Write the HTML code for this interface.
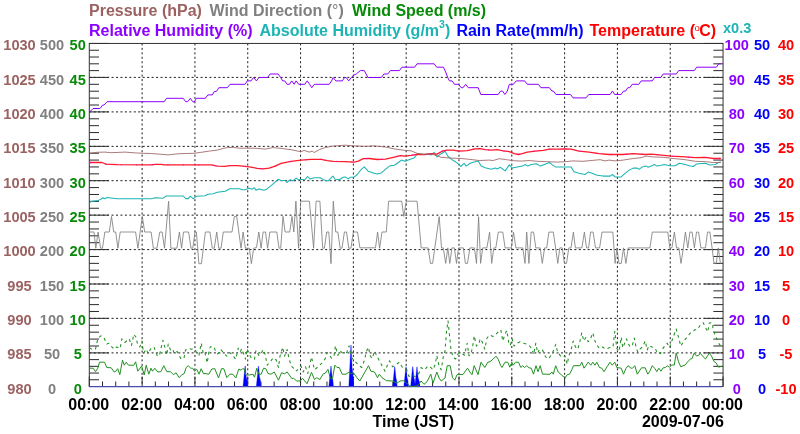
<!DOCTYPE html>
<html><head><meta charset="utf-8"><title>Weather chart</title>
<style>html,body{margin:0;padding:0;background:#fff}body{width:800px;height:434px;overflow:hidden}</style>
</head><body>
<svg width="800" height="434" viewBox="0 0 800 434" style="display:block">
<rect width="800" height="434" fill="#fff"/>
<path d="M142.11 43.45V386.5 M194.93 43.45V386.5 M247.74 43.45V386.5 M300.55 43.45V386.5 M353.36 43.45V386.5 M406.18 43.45V386.5 M458.99 43.45V386.5 M511.80 43.45V386.5 M564.61 43.45V386.5 M617.42 43.45V386.5 M670.24 43.45V386.5 M89.3 352.90H723.05 M89.3 318.35H723.05 M89.3 284.00H723.05 M89.3 249.60H723.05 M89.3 215.15H723.05 M89.3 180.70H723.05 M89.3 146.35H723.05 M89.3 111.90H723.05 M89.3 77.40H723.05" stroke="#1a1a1a" stroke-width="1" stroke-dasharray="2 2.45" fill="none"/>
<path d="M89.3 386.50h19.3M723.05 386.50h-19.3 M89.3 379.78h9.7M723.05 379.78h-9.7 M89.3 373.06h9.7M723.05 373.06h-9.7 M89.3 366.34h9.7M723.05 366.34h-9.7 M89.3 359.62h9.7M723.05 359.62h-9.7 M89.3 352.90h19.3M723.05 352.90h-19.3 M89.3 345.99h9.7M723.05 345.99h-9.7 M89.3 339.08h9.7M723.05 339.08h-9.7 M89.3 332.17h9.7M723.05 332.17h-9.7 M89.3 325.26h9.7M723.05 325.26h-9.7 M89.3 318.35h19.3M723.05 318.35h-19.3 M89.3 311.48h9.7M723.05 311.48h-9.7 M89.3 304.61h9.7M723.05 304.61h-9.7 M89.3 297.74h9.7M723.05 297.74h-9.7 M89.3 290.87h9.7M723.05 290.87h-9.7 M89.3 284.00h19.3M723.05 284.00h-19.3 M89.3 277.12h9.7M723.05 277.12h-9.7 M89.3 270.24h9.7M723.05 270.24h-9.7 M89.3 263.36h9.7M723.05 263.36h-9.7 M89.3 256.48h9.7M723.05 256.48h-9.7 M89.3 249.60h19.3M723.05 249.60h-19.3 M89.3 242.71h9.7M723.05 242.71h-9.7 M89.3 235.82h9.7M723.05 235.82h-9.7 M89.3 228.93h9.7M723.05 228.93h-9.7 M89.3 222.04h9.7M723.05 222.04h-9.7 M89.3 215.15h19.3M723.05 215.15h-19.3 M89.3 208.26h9.7M723.05 208.26h-9.7 M89.3 201.37h9.7M723.05 201.37h-9.7 M89.3 194.48h9.7M723.05 194.48h-9.7 M89.3 187.59h9.7M723.05 187.59h-9.7 M89.3 180.70h19.3M723.05 180.70h-19.3 M89.3 173.83h9.7M723.05 173.83h-9.7 M89.3 166.96h9.7M723.05 166.96h-9.7 M89.3 160.09h9.7M723.05 160.09h-9.7 M89.3 153.22h9.7M723.05 153.22h-9.7 M89.3 146.35h19.3M723.05 146.35h-19.3 M89.3 139.46h9.7M723.05 139.46h-9.7 M89.3 132.57h9.7M723.05 132.57h-9.7 M89.3 125.68h9.7M723.05 125.68h-9.7 M89.3 118.79h9.7M723.05 118.79h-9.7 M89.3 111.90h19.3M723.05 111.90h-19.3 M89.3 105.00h9.7M723.05 105.00h-9.7 M89.3 98.10h9.7M723.05 98.10h-9.7 M89.3 91.20h9.7M723.05 91.20h-9.7 M89.3 84.30h9.7M723.05 84.30h-9.7 M89.3 77.40h19.3M723.05 77.40h-19.3 M89.3 70.61h9.7M723.05 70.61h-9.7 M89.3 63.82h9.7M723.05 63.82h-9.7 M89.3 57.03h9.7M723.05 57.03h-9.7 M89.3 50.24h9.7M723.05 50.24h-9.7 M89.3 43.45h19.3M723.05 43.45h-19.3 M89.30 386.5v-10 M102.50 386.5v-5 M115.71 386.5v-5 M128.91 386.5v-5 M142.11 386.5v-10 M155.32 386.5v-5 M168.52 386.5v-5 M181.72 386.5v-5 M194.93 386.5v-10 M208.13 386.5v-5 M221.33 386.5v-5 M234.53 386.5v-5 M247.74 386.5v-10 M260.94 386.5v-5 M274.14 386.5v-5 M287.35 386.5v-5 M300.55 386.5v-10 M313.75 386.5v-5 M326.96 386.5v-5 M340.16 386.5v-5 M353.36 386.5v-10 M366.57 386.5v-5 M379.77 386.5v-5 M392.97 386.5v-5 M406.18 386.5v-10 M419.38 386.5v-5 M432.58 386.5v-5 M445.78 386.5v-5 M458.99 386.5v-10 M472.19 386.5v-5 M485.39 386.5v-5 M498.60 386.5v-5 M511.80 386.5v-10 M525.00 386.5v-5 M538.21 386.5v-5 M551.41 386.5v-5 M564.61 386.5v-10 M577.82 386.5v-5 M591.02 386.5v-5 M604.22 386.5v-5 M617.42 386.5v-10 M630.63 386.5v-5 M643.83 386.5v-5 M657.03 386.5v-5 M670.24 386.5v-10 M683.44 386.5v-5 M696.64 386.5v-5 M709.85 386.5v-5 M723.05 386.5v-10" stroke="#2a2a2a" stroke-width="1" fill="none"/>
<rect x="89.3" y="43.45" width="633.75" height="343.05" fill="none" stroke="#333" stroke-width="1"/>
<path d="M243.0 386.5L245.0 366.0L245.3 366.0L246.3 377.3L247.1 379.9L247.7 386.5Z M256.3 386.5L258.4 366.0L258.6 366.0L259.6 377.3L260.4 379.9L261.0 386.5Z M328.8 386.5L330.9 366.0L331.1 366.0L332.1 377.3L332.9 379.9L333.5 386.5Z M348.8 386.5L350.9 345.0L351.1 345.0L352.1 367.8L352.9 373.2L353.5 386.5Z M392.6 386.5L394.6 366.7L394.9 366.7L395.9 377.6L396.6 380.2L397.2 386.5Z M403.8 386.5L405.9 366.7L406.1 366.7L407.1 377.6L407.9 380.2L408.5 386.5Z M410.6 386.5L412.6 366.7L412.9 366.7L413.9 377.6L414.6 380.2L415.2 386.5Z M414.8 386.5L416.9 366.7L417.1 366.7L418.1 377.6L418.9 380.2L419.5 386.5Z" fill="#0000ff" stroke="#0000ff" stroke-width="0.3" stroke-linejoin="round"/>
<path d="M89.3 386.6H722.05" stroke="#4a4ab0" stroke-width="1.1"/>
<path d="M89.6 232.0 L94.0 232.0 L95.8 248.2 L98.1 232.0 L100.6 248.2 L102.5 248.2 L104.8 232.0 L109.3 232.0 L111.5 216.4 L113.7 232.0 L115.7 232.0 L117.9 248.2 L120.2 232.0 L135.6 232.0 L137.9 248.2 L142.3 216.4 L144.7 232.0 L151.1 232.0 L153.4 248.2 L156.9 248.2 L159.8 232.0 L162.1 232.0 L164.5 248.2 L168.6 201.2 L170.9 248.2 L176.9 248.2 L179.4 232.0 L181.6 248.2 L183.5 232.0 L188.6 232.0 L191.0 248.2 L192.8 248.2 L195.0 232.0 L196.4 232.0 L198.9 263.7 L201.4 263.7 L205.4 232.0 L209.9 232.0 L212.3 248.2 L214.3 248.2 L216.7 232.0 L218.8 248.2 L221.0 248.2 L223.3 232.0 L232.0 232.0 L234.4 216.4 L236.7 216.4 L241.0 248.2 L243.1 232.0 L245.4 248.2 L249.3 248.2 L251.4 263.7 L253.7 248.2 L256.5 247.5 L258.8 232.0 L261.1 248.2 L263.1 232.0 L265.5 232.0 L267.6 248.2 L269.9 232.0 L276.8 232.0 L279.0 248.2 L280.7 248.2 L283.0 216.4 L285.1 232.0 L289.7 232.0 L292.0 216.4 L293.8 232.0 L295.9 201.2 L298.6 248.2 L300.7 201.2 L305.0 201.2 L309.4 201.2 L313.6 248.2 L316.1 201.2 L319.9 201.2 L322.7 248.2 L324.4 248.2 L326.7 232.0 L328.8 232.0 L331.0 263.7 L333.3 201.2 L335.7 232.0 L337.8 232.0 L340.2 248.2 L342.0 248.2 L344.4 232.0 L346.5 232.0 L348.8 248.2 L350.9 248.2 L353.4 232.0 L357.5 232.0 L359.9 247.8 L375.5 247.8 L377.6 232.0 L379.6 248.2 L382.0 232.0 L386.3 232.0 L388.6 201.2 L401.7 201.2 L403.8 216.4 L406.3 201.2 L415.0 201.2 L417.1 201.3 L421.2 247.9 L428.1 247.9 L430.5 263.4 L432.6 263.4 L439.2 216.7 L441.5 247.9 L443.3 247.9 L445.7 263.4 L447.8 247.9 L449.8 263.4 L451.9 247.9 L454.4 247.9 L456.5 263.4 L458.5 247.9 L463.4 247.9 L465.4 263.4 L467.5 263.4 L469.9 247.9 L474.4 247.9 L476.5 263.4 L478.6 216.7 L480.6 263.4 L482.7 247.9 L486.9 247.9 L489.6 232.1 L491.7 263.4 L493.8 247.9 L495.8 247.9 L498.3 232.1 L502.8 232.1 L505.1 247.9 L511.3 247.9 L513.5 232.1 L515.9 247.9 L522.8 247.9 L525.0 263.4 L526.7 232.1 L528.9 263.4 L531.2 232.1 L533.6 232.1 L535.8 247.9 L540.2 247.9 L542.3 263.4 L544.6 247.9 L546.7 247.9 L548.9 232.1 L553.3 232.1 L557.8 263.4 L559.8 247.9 L562.3 247.9 L564.4 263.4 L566.5 263.4 L568.8 247.9 L571.0 247.9 L573.4 232.1 L575.4 247.9 L581.9 247.9 L584.4 232.1 L586.5 247.9 L588.6 247.9 L590.6 232.1 L593.1 232.1 L595.5 247.9 L599.6 247.9 L602.0 232.1 L612.8 232.1 L615.1 263.4 L616.9 247.9 L619.0 263.4 L621.3 263.4 L623.5 247.9 L625.9 263.4 L628.2 247.9 L635.0 247.9 L649.9 247.9 L652.3 232.1 L667.8 232.1 L669.8 247.9 L671.9 247.9 L674.4 232.1 L676.5 247.9 L678.9 247.9 L681.0 263.4 L683.4 247.9 L685.4 232.1 L687.8 247.9 L689.9 232.1 L692.1 232.1 L694.4 247.9 L696.5 232.1 L698.6 232.1 L700.9 247.9 L705.5 247.9 L707.5 232.1 L709.9 232.1 L712.1 247.9 L714.0 263.4 L716.3 263.4 L718.3 247.9 L720.4 263.4 L720.9 263.4" fill="none" stroke="#808080" stroke-width="0.85" stroke-linejoin="miter" stroke-miterlimit="10" />
<path d="M89.5 347.8 L92.5 349.7 L95.5 349.2 L97.8 338.8 L100.8 335.8 L103.8 337.2 L106.8 344.0 L109.0 343.2 L111.2 346.2 L114.2 349.2 L116.5 347.0 L120.2 348.5 L121.8 338.8 L124.8 342.5 L129.2 338.8 L131.5 345.5 L133.8 334.2 L136.0 337.2 L137.5 344.0 L139.8 347.0 L142.0 341.0 L143.5 353.0 L146.5 349.2 L148.0 353.8 L151.0 348.5 L154.0 347.0 L157.0 355.2 L159.2 356.0 L161.5 346.2 L163.0 340.2 L165.2 348.5 L166.8 355.2 L168.2 344.0 L170.5 350.0 L172.8 349.2 L174.2 353.8 L177.2 351.5 L178.8 354.5 L181.0 359.0 L184.0 358.2 L185.5 350.0 L188.5 348.5 L191.5 349.2 L194.5 348.5 L196.8 353.0 L199.0 355.2 L201.2 343.2 L203.5 354.5 L205.0 353.0 L207.2 363.0 L208.8 352.5 L210.2 346.8 L214.0 346.8 L215.5 351.0 L217.8 354.0 L220.8 349.5 L224.5 354.0 L226.8 356.2 L229.8 352.5 L232.0 354.8 L235.8 359.2 L238.3 348.0 L240.2 351.8 L241.8 348.8 L244.0 354.8 L245.5 359.2 L247.0 348.8 L249.2 354.0 L251.5 358.8 L254.5 359.2 L256.0 350.2 L259.0 355.5 L261.2 353.2 L263.2 349.5 L265.0 354.0 L267.2 365.2 L271.0 360.8 L273.2 357.8 L276.2 360.0 L278.5 367.5 L280.0 356.2 L282.7 347.2 L284.5 356.2 L287.2 349.5 L289.0 358.5 L291.2 366.0 L293.5 368.2 L295.8 371.2 L299.5 368.2 L301.0 366.0 L303.2 372.0 L305.5 366.8 L307.8 373.5 L311.5 357.0 L314.5 369.8 L319.0 366.0 L322.0 363.0 L325.0 359.2 L327.2 352.5 L329.5 355.5 L331.8 358.5 L334.0 355.5 L335.5 345.8 L337.8 355.5 L340.0 351.0 L343.0 353.2 L346.8 352.5 L349.0 345.8 L351.2 357.0 L355.0 361.5 L359.5 366.0 L361.8 367.5 L364.8 359.2 L366.2 351.8 L368.5 347.2 L370.0 355.5 L372.2 358.5 L374.5 351.0 L377.5 357.0 L380.5 363.0 L385.0 371.2 L388.0 363.8 L389.5 360.8 L392.5 366.8 L395.5 365.2 L399.2 362.2 L403.0 368.2 L406.8 369.8 L409.0 376.5 L411.2 375.0 L415.0 376.5 L418.8 373.5 L421.0 367.5 L424.8 369.8 L427.8 366.0 L430.8 367.5 L433.0 369.8 L435.2 364.5 L436.8 355.5 L439.0 366.0 L441.2 369.8 L443.5 355.5 L445.0 351.0 L446.5 332.0 L448.0 320.8 L449.5 335.0 L451.0 350.0 L453.2 357.5 L455.5 359.0 L458.5 353.0 L461.5 353.3 L464.5 355.2 L467.2 343.2 L469.0 356.0 L471.2 353.0 L472.8 345.5 L474.2 335.8 L476.5 346.2 L478.8 344.0 L480.2 338.8 L482.5 342.5 L484.8 349.2 L487.0 338.0 L490.0 335.0 L493.0 336.5 L496.8 333.5 L498.7 331.2 L500.8 329.8 L502.8 341.0 L505.0 334.2 L506.8 330.5 L508.8 343.2 L510.2 345.5 L512.2 338.8 L514.0 346.2 L517.0 343.2 L520.0 341.8 L523.0 343.2 L526.8 344.0 L529.8 346.2 L532.0 349.2 L533.5 354.5 L535.8 343.2 L537.7 353.0 L539.5 349.2 L542.5 350.0 L545.5 356.8 L548.5 359.0 L551.5 354.5 L553.8 350.0 L555.7 344.3 L557.5 351.5 L560.5 356.0 L563.5 357.5 L565.0 356.0 L567.2 364.2 L568.8 356.0 L571.0 350.0 L573.2 341.0 L575.5 347.0 L577.8 349.2 L580.0 341.0 L581.8 332.8 L583.8 341.0 L586.0 337.2 L588.2 341.8 L590.5 338.8 L592.8 332.8 L595.0 341.0 L597.2 345.5 L599.5 348.5 L602.5 347.0 L605.5 349.2 L609.2 347.8 L613.0 347.0 L614.8 331.2 L616.8 348.5 L619.0 351.5 L621.2 337.2 L622.8 347.8 L625.0 342.5 L626.5 338.8 L628.0 343.2 L630.2 347.0 L632.5 344.8 L634.3 338.0 L636.2 347.8 L637.8 352.2 L640.0 349.2 L643.0 346.2 L645.2 341.0 L647.2 350.0 L649.0 345.5 L652.0 347.0 L655.0 347.8 L657.2 353.0 L660.2 353.8 L662.5 349.2 L665.0 345.5 L667.2 343.2 L669.5 347.8 L671.8 341.0 L674.0 335.0 L676.2 329.0 L678.5 337.2 L680.8 346.2 L683.8 341.0 L687.5 336.5 L690.5 332.8 L692.8 331.2 L695.0 329.8 L697.2 329.8 L700.2 325.2 L703.2 322.7 L705.5 327.5 L707.8 332.0 L709.2 323.0 L712.2 322.7 L713.3 330.5 L716.0 336.5 L718.2 342.5 L720.8 346.2" fill="none" stroke="#1f8f1f" stroke-width="1.05" stroke-linejoin="round" stroke-dasharray="3 3.4"/>
<path d="M89.5 368.2 L93.2 368.2 L95.5 371.7 L97.8 368.2 L99.5 362.2 L104.5 362.2 L106.8 367.5 L111.2 367.8 L114.2 372.0 L115.8 371.2 L117.7 368.7 L119.8 374.7 L122.5 360.0 L124.3 365.2 L126.2 362.2 L128.5 365.2 L133.8 365.2 L135.6 361.8 L137.8 371.2 L141.7 366.0 L144.2 375.0 L146.2 365.2 L148.8 374.2 L151.0 368.2 L152.5 371.2 L154.8 368.2 L157.8 372.0 L160.8 371.7 L163.8 365.7 L166.8 371.7 L170.5 371.7 L173.5 374.7 L176.1 372.8 L179.2 377.7 L181.8 374.7 L184.0 373.8 L186.2 367.5 L188.2 365.7 L190.8 368.2 L192.7 368.2 L194.5 371.2 L196.8 369.3 L199.0 374.2 L201.2 368.7 L203.5 373.8 L205.0 373.5 L208.8 374.2 L211.8 369.0 L214.8 368.7 L218.5 378.0 L221.5 368.7 L223.8 368.7 L226.8 377.7 L229.8 374.2 L232.8 374.2 L235.8 378.0 L238.8 369.0 L241.0 370.2 L242.5 368.7 L244.3 369.0 L245.8 375.0 L249.2 375.0 L253.0 374.2 L254.5 377.2 L256.8 368.2 L258.7 374.2 L261.2 374.2 L263.5 368.2 L265.8 368.7 L268.0 373.5 L271.0 374.2 L274.3 372.0 L278.5 380.2 L281.5 372.8 L284.5 373.8 L287.2 372.0 L292.0 378.8 L293.5 378.0 L296.5 381.0 L300.2 381.0 L302.5 378.3 L307.0 383.7 L311.5 372.4 L314.5 379.5 L316.8 377.7 L319.8 379.5 L323.5 373.5 L325.0 373.5 L328.0 369.3 L330.2 378.0 L332.5 378.8 L334.8 365.2 L337.0 367.5 L339.2 367.5 L342.2 374.2 L346.0 374.2 L349.0 372.0 L351.2 373.8 L353.5 372.8 L356.5 377.2 L359.8 381.0 L368.5 365.7 L370.8 371.2 L374.5 372.0 L377.5 377.7 L379.3 374.2 L382.0 377.7 L386.5 380.7 L392.5 381.0 L397.0 383.2 L400.0 381.0 L403.8 380.7 L406.8 383.2 L410.5 386.6 L415.0 386.2 L418.0 385.5 L421.0 381.0 L424.0 384.3 L427.0 381.8 L430.8 374.2 L433.0 383.2 L436.8 372.0 L439.0 378.0 L441.2 381.0 L445.0 378.0 L447.2 365.7 L450.2 365.7 L452.5 377.7 L454.8 380.2 L457.0 374.7 L463.0 374.4 L467.5 368.2 L469.8 372.0 L472.0 374.7 L474.2 365.7 L478.0 374.7 L481.0 362.2 L484.8 367.5 L487.8 362.2 L490.0 361.8 L493.0 359.2 L496.0 356.2 L498.2 359.2 L500.5 365.2 L502.0 367.5 L505.0 362.2 L507.7 362.2 L509.8 367.2 L511.8 362.2 L513.2 365.2 L515.5 362.2 L518.5 362.2 L520.8 367.5 L522.7 365.7 L524.5 367.5 L526.8 365.7 L529.0 367.8 L531.2 368.2 L533.5 374.2 L536.0 365.7 L538.0 371.7 L540.2 365.7 L542.5 374.2 L550.0 374.2 L551.8 372.0 L553.3 374.2 L555.7 365.7 L558.2 372.0 L561.2 374.7 L565.0 378.0 L567.2 374.7 L569.5 374.2 L571.8 369.8 L573.5 365.7 L580.0 365.7 L581.8 362.2 L584.0 368.2 L588.2 362.2 L590.8 365.2 L592.8 362.2 L595.0 365.2 L596.8 362.2 L599.5 367.5 L601.8 368.2 L604.0 371.7 L607.0 366.8 L610.0 362.2 L612.2 365.2 L614.8 362.2 L616.8 367.5 L621.2 368.2 L623.5 374.2 L625.8 368.7 L628.0 365.7 L631.0 368.2 L632.5 368.2 L634.8 365.7 L637.3 374.2 L641.5 367.8 L645.2 367.8 L647.8 374.2 L649.8 371.2 L652.3 365.7 L655.0 368.7 L656.8 371.7 L658.8 368.2 L661.0 371.2 L663.2 367.8 L665.5 367.5 L667.2 365.8 L669.5 367.2 L671.8 365.0 L674.3 365.0 L676.2 353.0 L678.5 361.7 L680.8 366.8 L683.0 365.8 L685.2 365.0 L688.2 361.2 L690.5 359.0 L692.0 358.7 L694.2 353.0 L696.5 356.0 L698.8 355.2 L700.2 353.3 L703.2 356.8 L705.5 359.0 L709.2 353.3 L711.5 356.0 L713.8 361.2 L716.0 362.8 L718.7 367.2 L720.9 366.5" fill="none" stroke="#219121" stroke-width="1.0" stroke-linejoin="round" />
<path d="M90.0 111.7 L93.0 108.5 L100.0 108.5 L102.6 105.1 L104.0 105.1 L107.1 101.7 L164.2 101.7 L166.6 98.3 L183.2 98.3 L185.7 101.7 L187.7 101.7 L190.3 98.3 L192.7 101.7 L194.3 102.1 L196.3 98.3 L205.3 98.3 L207.9 94.9 L212.3 94.9 L214.3 91.5 L216.3 91.5 L218.9 87.7 L227.4 87.7 L230.0 84.3 L245.0 84.3 L247.4 80.9 L251.0 80.9 L253.6 77.5 L256.4 80.9 L259.0 77.5 L267.5 77.5 L270.1 74.0 L278.1 74.0 L280.7 77.5 L282.7 80.9 L284.7 80.9 L287.1 84.3 L289.5 84.3 L291.7 80.9 L294.1 84.3 L296.1 80.9 L298.7 84.3 L304.8 84.3 L307.2 80.9 L309.6 84.3 L311.8 87.7 L314.2 84.3 L329.2 84.3 L331.6 80.9 L333.2 77.5 L335.8 80.9 L342.2 80.9 L344.6 77.5 L346.2 77.5 L348.7 80.9 L351.3 77.5 L353.9 75.0 L356.3 74.0 L360.3 70.6 L364.3 70.6 L366.1 74.0 L367.9 77.5 L381.3 77.5 L383.9 74.0 L387.8 74.0 L390.4 70.6 L399.4 70.6 L402.0 67.2 L405.0 67.2 L414.6 67.2 L417.0 63.8 L434.1 63.8 L436.7 67.2 L443.5 67.2 L446.1 73.0 L447.7 77.5 L449.5 80.9 L452.1 80.9 L454.5 84.3 L458.7 84.3 L461.1 87.7 L463.1 87.7 L465.6 84.3 L468.2 87.7 L478.2 87.7 L480.8 94.5 L498.2 94.5 L500.6 91.1 L502.6 91.1 L504.9 94.5 L507.3 91.1 L509.3 84.3 L513.3 84.3 L516.3 80.9 L524.7 80.9 L527.3 84.3 L538.3 84.3 L540.9 87.7 L549.4 87.7 L552.0 91.1 L553.4 91.1 L556.0 94.5 L565.0 94.5 L570.6 94.5 L573.0 97.9 L586.0 97.9 L588.7 94.5 L610.1 94.5 L612.5 91.1 L614.7 94.5 L621.1 94.5 L623.5 91.1 L625.5 91.1 L627.8 87.7 L629.8 87.7 L632.2 84.3 L638.8 84.3 L641.2 80.9 L652.2 80.9 L654.6 77.5 L660.8 77.5 L663.2 74.0 L676.3 74.0 L678.7 70.6 L694.3 70.6 L696.7 67.2 L716.4 67.2 L718.8 63.8 L720.9 63.8" fill="none" stroke="#8c00ff" stroke-width="1.0" stroke-linejoin="round" />
<path d="M90.0 202.2 L92.0 201.2 L98.0 200.6 L101.0 199.0 L103.0 197.8 L104.5 198.8 L107.1 197.6 L113.1 198.2 L117.1 198.8 L151.2 198.8 L155.2 197.8 L163.2 198.2 L166.2 196.0 L183.2 196.0 L185.8 198.6 L188.3 198.6 L190.3 196.2 L193.3 198.8 L196.3 196.2 L205.3 195.8 L207.7 194.2 L213.3 193.8 L217.3 192.2 L225.3 191.2 L229.8 188.8 L239.4 188.8 L242.4 189.8 L245.0 189.8 L249.0 188.2 L252.0 189.3 L254.0 187.7 L256.0 190.2 L259.0 188.9 L264.1 190.2 L267.1 188.9 L271.1 185.7 L275.1 182.1 L278.1 179.3 L281.1 180.5 L285.1 180.5 L287.1 182.5 L290.1 179.7 L293.1 180.9 L296.1 178.1 L298.1 179.7 L305.1 179.3 L307.6 176.5 L310.2 179.1 L314.2 177.7 L320.2 177.7 L324.2 180.1 L328.2 180.9 L332.8 176.1 L335.2 179.3 L339.2 179.7 L343.2 177.3 L345.2 176.9 L348.3 178.9 L350.3 177.3 L354.3 176.9 L357.3 174.5 L361.3 169.3 L364.3 166.9 L368.3 171.3 L373.3 172.9 L377.3 174.1 L381.3 172.9 L385.4 169.3 L389.4 166.1 L394.4 165.3 L398.4 162.5 L401.4 160.1 L405.0 161.3 L409.0 159.7 L414.0 158.1 L417.0 154.1 L423.1 154.5 L427.1 154.1 L431.1 154.9 L434.1 152.5 L437.1 156.9 L441.1 153.7 L445.1 151.2 L448.1 156.5 L452.1 159.7 L457.1 162.9 L460.7 166.5 L464.1 163.3 L466.1 166.1 L470.2 163.3 L474.2 162.1 L478.2 160.9 L481.2 166.1 L485.2 167.7 L491.2 169.3 L495.2 168.1 L497.6 168.9 L500.2 167.3 L505.2 170.9 L509.3 164.9 L512.3 168.1 L517.3 166.9 L522.3 166.1 L525.3 164.5 L527.7 166.1 L531.3 164.5 L536.3 163.7 L540.3 166.1 L544.4 164.5 L549.4 162.5 L552.4 164.9 L555.4 166.9 L565.0 166.9 L571.0 166.9 L574.0 171.7 L579.0 173.3 L585.0 174.5 L588.1 172.1 L592.1 173.3 L597.1 175.3 L603.1 176.1 L610.1 176.1 L612.5 174.5 L615.1 176.9 L621.1 176.9 L625.1 173.3 L629.2 170.1 L633.2 168.1 L637.2 168.1 L639.2 169.3 L642.2 166.9 L646.2 166.1 L648.2 167.3 L651.2 166.1 L654.2 164.5 L657.2 166.1 L661.2 165.3 L664.2 164.5 L669.3 165.7 L675.3 165.7 L679.3 163.3 L685.3 164.5 L689.3 165.7 L693.3 166.5 L696.3 164.1 L705.4 163.3 L709.4 164.9 L715.4 164.5 L718.4 162.5 L720.9 162.1" fill="none" stroke="#1cb4b4" stroke-width="1.05" stroke-linejoin="round" />
<path d="M90.0 162.5 L102.0 162.5 L106.0 164.1 L117.1 164.7 L151.2 164.9 L155.2 164.3 L161.2 164.3 L164.2 164.9 L211.3 164.9 L217.3 166.1 L225.3 166.3 L229.4 165.7 L237.4 165.7 L245.0 166.3 L251.0 167.1 L257.0 168.3 L263.1 168.9 L269.1 168.1 L275.1 166.1 L281.1 163.3 L291.1 161.3 L301.1 160.1 L311.2 159.3 L321.2 159.3 L327.2 160.7 L333.2 161.3 L345.2 161.7 L354.3 162.1 L358.3 161.1 L363.3 158.7 L369.3 158.5 L377.3 159.5 L385.4 159.1 L393.4 157.3 L400.4 155.7 L405.0 156.1 L411.0 155.3 L417.0 154.3 L425.1 154.5 L431.1 153.7 L437.1 154.1 L442.1 151.2 L447.1 150.1 L453.1 150.1 L459.1 151.2 L467.2 150.7 L475.2 148.8 L480.2 148.7 L485.2 149.7 L491.2 150.1 L497.2 149.7 L503.2 150.8 L509.3 151.7 L514.3 153.7 L518.3 154.5 L522.3 153.7 L527.3 152.1 L535.3 151.2 L543.4 150.4 L549.4 149.2 L557.4 149.1 L565.0 148.8 L571.0 149.2 L579.0 151.2 L589.1 152.1 L599.1 153.7 L609.1 154.5 L623.1 154.5 L633.2 153.7 L645.2 154.5 L651.2 154.1 L659.2 154.9 L671.3 156.1 L685.3 156.9 L695.3 157.7 L705.4 157.3 L713.4 158.5 L720.9 158.5" fill="none" stroke="#ff1a2a" stroke-width="1.3" stroke-linejoin="round" />
<path d="M90.0 162.5 L102.0 162.5 L106.0 164.1 L117.1 164.7 L151.2 164.9 L155.2 164.3 L161.2 164.3 L164.2 164.9 L211.3 164.9 L217.3 166.1 L225.3 166.3 L229.4 165.7 L237.4 165.7 L245.0 166.3 L251.0 167.1 L257.0 168.3 L263.1 168.9 L269.1 168.1 L275.1 166.1 L281.1 163.3 L291.1 161.3 L301.1 160.1 L311.2 159.3 L321.2 159.3 L327.2 160.7 L333.2 161.3 L345.2 161.7 L354.3 162.1 L358.3 161.1 L363.3 158.7 L369.3 158.5 L377.3 159.5 L385.4 159.1 L393.4 157.3 L400.4 155.7 L405.0 156.1 L411.0 155.3 L417.0 154.3 L425.1 154.5 L431.1 153.7 L437.1 154.1 L442.1 151.2 L447.1 150.1 L453.1 150.1 L459.1 151.2 L467.2 150.7 L475.2 148.8 L480.2 148.7 L485.2 149.7 L491.2 150.1 L497.2 149.7 L503.2 150.8 L509.3 151.7 L514.3 153.7 L518.3 154.5 L522.3 153.7 L527.3 152.1 L535.3 151.2 L543.4 150.4 L549.4 149.2 L557.4 149.1 L565.0 148.8 L571.0 149.2 L579.0 151.2 L589.1 152.1 L599.1 153.7 L609.1 154.5 L623.1 154.5 L633.2 153.7 L645.2 154.5 L651.2 154.1 L659.2 154.9 L671.3 156.1 L685.3 156.9 L695.3 157.7 L705.4 157.3 L713.4 158.5 L720.9 158.5" fill="none" stroke="#ff00d0" stroke-width="1.3" stroke-linejoin="round" stroke-dasharray="1.5 14" opacity="0.7"/>
<path d="M90.0 153.3 L97.0 152.3 L105.0 152.1 L111.1 152.7 L125.1 152.1 L135.1 152.9 L143.2 153.3 L151.2 153.5 L161.2 154.3 L168.2 154.9 L173.2 154.3 L179.2 153.7 L185.2 153.5 L194.3 153.3 L201.3 152.3 L209.3 151.1 L217.3 150.1 L223.3 148.4 L227.4 147.6 L233.4 147.4 L239.4 148.2 L245.0 148.2 L255.0 148.2 L265.1 149.1 L273.1 147.6 L281.1 148.4 L291.1 149.7 L298.1 151.2 L301.1 151.7 L304.1 150.4 L309.2 152.1 L312.2 151.2 L314.2 152.5 L319.2 149.7 L325.2 147.6 L333.2 146.0 L345.2 145.2 L353.3 145.8 L365.3 146.4 L373.3 145.8 L385.4 147.0 L395.4 149.1 L405.0 150.4 L411.0 150.8 L417.0 153.3 L425.1 154.5 L431.1 154.1 L435.1 155.1 L441.1 157.3 L451.1 158.1 L461.1 158.5 L469.2 159.3 L479.2 160.5 L489.2 160.1 L493.2 160.5 L499.2 158.7 L505.2 159.5 L513.3 160.7 L521.3 161.1 L529.3 160.5 L537.3 161.3 L547.4 161.7 L557.4 162.1 L565.0 161.7 L573.0 160.9 L583.0 161.3 L591.1 160.5 L600.1 159.7 L605.1 160.9 L609.1 160.1 L615.1 160.9 L623.1 160.1 L633.2 158.5 L641.2 157.7 L646.2 156.1 L653.2 156.9 L663.2 157.3 L673.3 158.5 L685.3 159.7 L695.3 161.3 L705.4 161.7 L713.4 162.5 L720.9 162.5" fill="none" stroke="#9c6262" stroke-width="0.85" stroke-linejoin="round" />
<g font-family="'Liberation Sans', Arial, Helvetica, sans-serif" font-weight="bold" font-size="16px">
<text x="19.5" y="393.8" text-anchor="middle" font-size="14.6px" fill="#9c6262">980</text>
<text x="52" y="393.8" text-anchor="middle" font-size="14.6px" fill="#808080">0</text>
<text x="77.7" y="393.8" text-anchor="middle" font-size="14.6px" fill="#078a07">0</text>
<text x="736.8" y="393.8" text-anchor="middle" font-size="14.6px" fill="#8c00ff">0</text>
<text x="762" y="393.8" text-anchor="middle" font-size="14.6px" fill="#0000ff">0</text>
<text x="786" y="393.8" text-anchor="middle" font-size="14.6px" fill="#ff0000">-10</text>
<text x="19.5" y="359.4" text-anchor="middle" font-size="14.6px" fill="#9c6262">985</text>
<text x="52" y="359.4" text-anchor="middle" font-size="14.6px" fill="#808080">50</text>
<text x="77.7" y="359.4" text-anchor="middle" font-size="14.6px" fill="#078a07">5</text>
<text x="736.8" y="359.4" text-anchor="middle" font-size="14.6px" fill="#8c00ff">10</text>
<text x="762" y="359.4" text-anchor="middle" font-size="14.6px" fill="#0000ff">5</text>
<text x="786" y="359.4" text-anchor="middle" font-size="14.6px" fill="#ff0000">-5</text>
<text x="19.5" y="325.1" text-anchor="middle" font-size="14.6px" fill="#9c6262">990</text>
<text x="52" y="325.1" text-anchor="middle" font-size="14.6px" fill="#808080">100</text>
<text x="77.7" y="325.1" text-anchor="middle" font-size="14.6px" fill="#078a07">10</text>
<text x="736.8" y="325.1" text-anchor="middle" font-size="14.6px" fill="#8c00ff">20</text>
<text x="762" y="325.1" text-anchor="middle" font-size="14.6px" fill="#0000ff">10</text>
<text x="786" y="325.1" text-anchor="middle" font-size="14.6px" fill="#ff0000">0</text>
<text x="19.5" y="290.7" text-anchor="middle" font-size="14.6px" fill="#9c6262">995</text>
<text x="52" y="290.7" text-anchor="middle" font-size="14.6px" fill="#808080">150</text>
<text x="77.7" y="290.7" text-anchor="middle" font-size="14.6px" fill="#078a07">15</text>
<text x="736.8" y="290.7" text-anchor="middle" font-size="14.6px" fill="#8c00ff">30</text>
<text x="762" y="290.7" text-anchor="middle" font-size="14.6px" fill="#0000ff">15</text>
<text x="786" y="290.7" text-anchor="middle" font-size="14.6px" fill="#ff0000">5</text>
<text x="19.5" y="256.3" text-anchor="middle" font-size="14.6px" fill="#9c6262">1000</text>
<text x="52" y="256.3" text-anchor="middle" font-size="14.6px" fill="#808080">200</text>
<text x="77.7" y="256.3" text-anchor="middle" font-size="14.6px" fill="#078a07">20</text>
<text x="736.8" y="256.3" text-anchor="middle" font-size="14.6px" fill="#8c00ff">40</text>
<text x="762" y="256.3" text-anchor="middle" font-size="14.6px" fill="#0000ff">20</text>
<text x="786" y="256.3" text-anchor="middle" font-size="14.6px" fill="#ff0000">10</text>
<text x="19.5" y="222.0" text-anchor="middle" font-size="14.6px" fill="#9c6262">1005</text>
<text x="52" y="222.0" text-anchor="middle" font-size="14.6px" fill="#808080">250</text>
<text x="77.7" y="222.0" text-anchor="middle" font-size="14.6px" fill="#078a07">25</text>
<text x="736.8" y="222.0" text-anchor="middle" font-size="14.6px" fill="#8c00ff">50</text>
<text x="762" y="222.0" text-anchor="middle" font-size="14.6px" fill="#0000ff">25</text>
<text x="786" y="222.0" text-anchor="middle" font-size="14.6px" fill="#ff0000">15</text>
<text x="19.5" y="187.6" text-anchor="middle" font-size="14.6px" fill="#9c6262">1010</text>
<text x="52" y="187.6" text-anchor="middle" font-size="14.6px" fill="#808080">300</text>
<text x="77.7" y="187.6" text-anchor="middle" font-size="14.6px" fill="#078a07">30</text>
<text x="736.8" y="187.6" text-anchor="middle" font-size="14.6px" fill="#8c00ff">60</text>
<text x="762" y="187.6" text-anchor="middle" font-size="14.6px" fill="#0000ff">30</text>
<text x="786" y="187.6" text-anchor="middle" font-size="14.6px" fill="#ff0000">20</text>
<text x="19.5" y="153.2" text-anchor="middle" font-size="14.6px" fill="#9c6262">1015</text>
<text x="52" y="153.2" text-anchor="middle" font-size="14.6px" fill="#808080">350</text>
<text x="77.7" y="153.2" text-anchor="middle" font-size="14.6px" fill="#078a07">35</text>
<text x="736.8" y="153.2" text-anchor="middle" font-size="14.6px" fill="#8c00ff">70</text>
<text x="762" y="153.2" text-anchor="middle" font-size="14.6px" fill="#0000ff">35</text>
<text x="786" y="153.2" text-anchor="middle" font-size="14.6px" fill="#ff0000">25</text>
<text x="19.5" y="118.8" text-anchor="middle" font-size="14.6px" fill="#9c6262">1020</text>
<text x="52" y="118.8" text-anchor="middle" font-size="14.6px" fill="#808080">400</text>
<text x="77.7" y="118.8" text-anchor="middle" font-size="14.6px" fill="#078a07">40</text>
<text x="736.8" y="118.8" text-anchor="middle" font-size="14.6px" fill="#8c00ff">80</text>
<text x="762" y="118.8" text-anchor="middle" font-size="14.6px" fill="#0000ff">40</text>
<text x="786" y="118.8" text-anchor="middle" font-size="14.6px" fill="#ff0000">30</text>
<text x="19.5" y="84.5" text-anchor="middle" font-size="14.6px" fill="#9c6262">1025</text>
<text x="52" y="84.5" text-anchor="middle" font-size="14.6px" fill="#808080">450</text>
<text x="77.7" y="84.5" text-anchor="middle" font-size="14.6px" fill="#078a07">45</text>
<text x="736.8" y="84.5" text-anchor="middle" font-size="14.6px" fill="#8c00ff">90</text>
<text x="762" y="84.5" text-anchor="middle" font-size="14.6px" fill="#0000ff">45</text>
<text x="786" y="84.5" text-anchor="middle" font-size="14.6px" fill="#ff0000">35</text>
<text x="19.5" y="50.1" text-anchor="middle" font-size="14.6px" fill="#9c6262">1030</text>
<text x="52" y="50.1" text-anchor="middle" font-size="14.6px" fill="#808080">500</text>
<text x="77.7" y="50.1" text-anchor="middle" font-size="14.6px" fill="#078a07">50</text>
<text x="736.8" y="50.1" text-anchor="middle" font-size="14.6px" fill="#8c00ff">100</text>
<text x="762" y="50.1" text-anchor="middle" font-size="14.6px" fill="#0000ff">50</text>
<text x="786" y="50.1" text-anchor="middle" font-size="14.6px" fill="#ff0000">40</text>
<text x="88.8" y="409.5" text-anchor="middle" fill="#000">00:00</text>
<text x="141.6" y="409.5" text-anchor="middle" fill="#000">02:00</text>
<text x="194.4" y="409.5" text-anchor="middle" fill="#000">04:00</text>
<text x="247.2" y="409.5" text-anchor="middle" fill="#000">06:00</text>
<text x="300.1" y="409.5" text-anchor="middle" fill="#000">08:00</text>
<text x="352.9" y="409.5" text-anchor="middle" fill="#000">10:00</text>
<text x="405.7" y="409.5" text-anchor="middle" fill="#000">12:00</text>
<text x="458.5" y="409.5" text-anchor="middle" fill="#000">14:00</text>
<text x="511.3" y="409.5" text-anchor="middle" fill="#000">16:00</text>
<text x="564.1" y="409.5" text-anchor="middle" fill="#000">18:00</text>
<text x="616.9" y="409.5" text-anchor="middle" fill="#000">20:00</text>
<text x="669.7" y="409.5" text-anchor="middle" fill="#000">22:00</text>
<text x="722.5" y="409.5" text-anchor="middle" fill="#000">00:00</text>
<text x="413.3" y="427" text-anchor="middle" fill="#000">Time (JST)</text>
<text x="723.8" y="427" text-anchor="end" fill="#000">2009-07-06</text>
<text x="89" y="16" fill="#9c6262">Pressure (hPa)</text>
<text x="209.5" y="16" fill="#808080">Wind Direction (<tspan font-weight="normal">°</tspan>)</text>
<text x="352" y="16" fill="#078a07">Wind Speed (m/s)</text>
<text x="89" y="36" fill="#8c00ff">Relative Humidity (%)</text>
<text x="259.5" y="36" fill="#1cb4b4">Absolute Humidity (g/m<tspan font-size="10.5px" dy="-8">3</tspan><tspan dy="8">)</tspan></text>
<text x="456.4" y="36" fill="#0000ff">Rain Rate(mm/h)</text>
<text x="589.5" y="36" fill="#ff0000">Temperature (<tspan font-size="9.5px" font-weight="normal" dy="-5.5" dx="-0.4">o</tspan><tspan dy="5.5" dx="-0.6">C)</tspan></text>
<text x="723" y="32.5" fill="#1cb4b4" font-size="14.5px">x0.3</text>
</g>
</svg>
</body></html>
